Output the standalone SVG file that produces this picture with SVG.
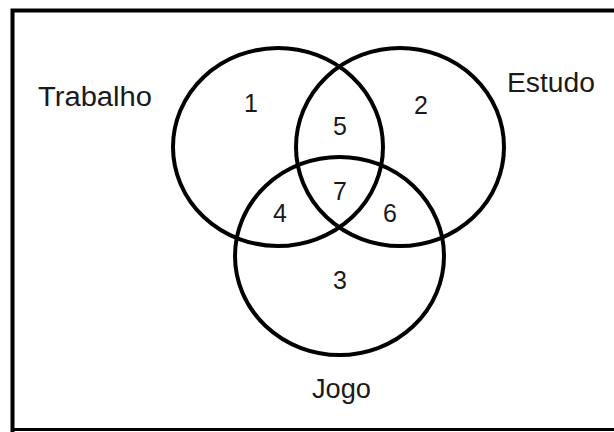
<svg xmlns="http://www.w3.org/2000/svg" width="614" height="432" viewBox="0 0 614 432">
<style>
.set{fill:none;stroke:#000;stroke-width:4}
.lbl{font-family:"Liberation Sans",Arial,sans-serif;font-size:27px;fill:#1a1a1a}
.num{font-family:"Liberation Sans",Arial,sans-serif;font-size:25px;fill:#1a1a1a;text-anchor:middle}
</style>
<rect width="614" height="432" fill="#fff"/>
<g id="frame" fill="none" stroke="#000">
<path d="M12.5 432 V10.5 H614" stroke-width="4"/>
<path d="M12 429.5 H614" stroke-width="3"/>
</g>
<g id="trabalho">
<ellipse class="set" cx="278" cy="147" rx="105" ry="99"/>
<text class="lbl" x="38" y="106" textLength="114" lengthAdjust="spacingAndGlyphs">Trabalho</text>
</g>
<g id="estudo">
<ellipse class="set" cx="400" cy="147" rx="104" ry="99"/>
<text class="lbl" x="507" y="92" textLength="88" lengthAdjust="spacingAndGlyphs">Estudo</text>
</g>
<g id="jogo">
<ellipse class="set" cx="339.5" cy="256" rx="104.5" ry="99"/>
<text class="lbl" x="312" y="398" textLength="59" lengthAdjust="spacingAndGlyphs">Jogo</text>
</g>
<g id="regions">
<text class="num" x="251" y="112">1</text>
<text class="num" x="421" y="114">2</text>
<text class="num" x="340" y="289">3</text>
<text class="num" x="280" y="222">4</text>
<text class="num" x="340" y="135">5</text>
<text class="num" x="390" y="222">6</text>
<text class="num" x="340" y="200">7</text>
</g>
</svg>
